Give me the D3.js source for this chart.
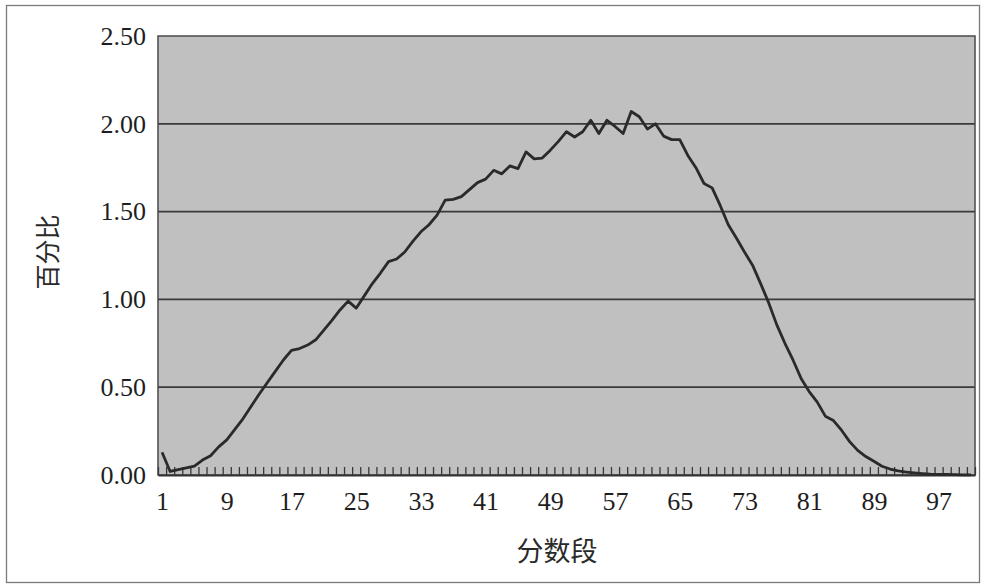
<!DOCTYPE html>
<html>
<head>
<meta charset="utf-8">
<script src="https://cdn.jsdelivr.net/npm/d3@7"></script>
<style>
  html, body { margin: 0; padding: 0; background: #ffffff; }
  svg { display: block; }
</style>
</head>
<body>
<svg id="chart" width="986" height="587"></svg>
<script>
// ---- data ----
const categories = d3.range(1, 102); // 分数段 1..101
const percentValues = [
  0.13, 0.02, 0.03, 0.04, 0.05, 0.085, 0.11, 0.16, 0.20, 0.26,
  0.32, 0.39, 0.46, 0.525, 0.59, 0.655, 0.71, 0.72, 0.74, 0.77,
  0.825, 0.88, 0.94, 0.99, 0.95, 1.02, 1.09, 1.15, 1.215, 1.23,
  1.27, 1.33, 1.385, 1.425, 1.48, 1.565, 1.57, 1.585, 1.625, 1.665,
  1.685, 1.735, 1.715, 1.76, 1.745, 1.84, 1.80, 1.805, 1.85, 1.90,
  1.955, 1.925, 1.955, 2.02, 1.945, 2.02, 1.985, 1.945, 2.07, 2.04,
  1.97, 2.00, 1.93, 1.91, 1.91, 1.82, 1.75, 1.66, 1.635, 1.535,
  1.425, 1.35, 1.27, 1.195, 1.09, 0.98, 0.855, 0.75, 0.655, 0.55,
  0.475, 0.415, 0.335, 0.31, 0.255, 0.19, 0.14, 0.105, 0.078, 0.05,
  0.034, 0.023, 0.017, 0.012, 0.008, 0.005, 0.004, 0.003, 0.002, 0.001,
  0.001
];
const yTicks = [0, 0.5, 1.0, 1.5, 2.0, 2.5];
const xTickLabels = [1, 9, 17, 25, 33, 41, 49, 57, 65, 73, 81, 89, 97];
const yTitle = "百分比";
const xTitle = "分数段";

// ---- layout ----
const svg = d3.select("#chart");
const plot = { left: 158, right: 975, top: 36, bottom: 475 };
const numFont = "'Liberation Serif', 'DejaVu Serif', serif";
const cjkFont = "'Noto Sans CJK SC', sans-serif";

// outer frame
svg.append("rect")
  .attr("x", 6.5).attr("y", 5.5)
  .attr("width", 973).attr("height", 577)
  .attr("fill", "#ffffff")
  .attr("stroke", "#7a7a7a").attr("stroke-width", 1.3);

const x = d3.scalePoint().domain(categories).range([plot.left, plot.right]).padding(0.5);
const xEdge = d3.scaleLinear().domain([0.5, categories.length + 0.5]).range([plot.left, plot.right]);
const y = d3.scaleLinear().domain([0, 2.5]).range([plot.bottom, plot.top]);

// plot area background
svg.append("rect")
  .attr("x", plot.left).attr("y", plot.top)
  .attr("width", plot.right - plot.left).attr("height", plot.bottom - plot.top)
  .attr("fill", "#c0c0c0");

// gridlines
svg.append("g")
  .selectAll("line")
  .data(yTicks.filter(t => t > 0 && t < 2.5))
  .join("line")
  .attr("x1", plot.left).attr("x2", plot.right)
  .attr("y1", d => y(d)).attr("y2", d => y(d))
  .attr("stroke", "#3a3a3a").attr("stroke-width", 1.7);

// plot border
svg.append("rect")
  .attr("x", plot.left).attr("y", plot.top)
  .attr("width", plot.right - plot.left).attr("height", plot.bottom - plot.top)
  .attr("fill", "none").attr("stroke", "#4a4a4a").attr("stroke-width", 1.5);

// y axis labels
const yAxis = d3.axisLeft(y).tickValues(yTicks).tickFormat(d3.format(".2f")).tickSize(0).tickPadding(12);
const gy = svg.append("g").attr("transform", `translate(${plot.left},0)`).call(yAxis);
gy.select(".domain").remove();
gy.selectAll("text")
  .attr("font-family", numFont)
  .attr("font-size", 26).attr("fill", "#1e1e1e");

// x tick marks (between categories, pointing up)
const tickAxis = d3.axisBottom(xEdge)
  .tickValues(d3.range(0.5, categories.length + 1, 1))
  .tickSizeInner(-8).tickSizeOuter(0).tickFormat("");
const gt = svg.append("g").attr("transform", `translate(0,${plot.bottom})`).call(tickAxis);
gt.select(".domain").attr("stroke", "#333").attr("stroke-width", 1.8);
gt.selectAll(".tick line").attr("stroke", "#383838").attr("stroke-width", 1.3);

// x labels
const xAxis = d3.axisBottom(x).tickValues(xTickLabels).tickSize(0).tickPadding(35);
const gx = svg.append("g").attr("transform", `translate(0,${plot.bottom})`).call(xAxis);
gx.select(".domain").remove();
gx.selectAll("text")
  .attr("dy", "0")
  .attr("font-family", numFont)
  .attr("font-size", 26).attr("fill", "#1e1e1e");

// line
const line = d3.line()
  .x((d, i) => x(categories[i]))
  .y(d => y(d));
svg.append("path")
  .datum(percentValues)
  .attr("d", line)
  .attr("fill", "none")
  .attr("stroke", "#2a2a2a")
  .attr("stroke-width", 2.8)
  .attr("stroke-linejoin", "round");

// titles
svg.append("text")
  .attr("transform", `translate(57,252) rotate(-90)`)
  .attr("text-anchor", "middle")
  .attr("font-family", cjkFont)
  .attr("font-size", 25).attr("fill", "#2a2a2a")
  .text(yTitle);

svg.append("text")
  .attr("x", 557)
  .attr("y", 561)
  .attr("text-anchor", "middle")
  .attr("font-family", cjkFont)
  .attr("font-size", 27).attr("fill", "#2a2a2a")
  .text(xTitle);
</script>
</body>
</html>
